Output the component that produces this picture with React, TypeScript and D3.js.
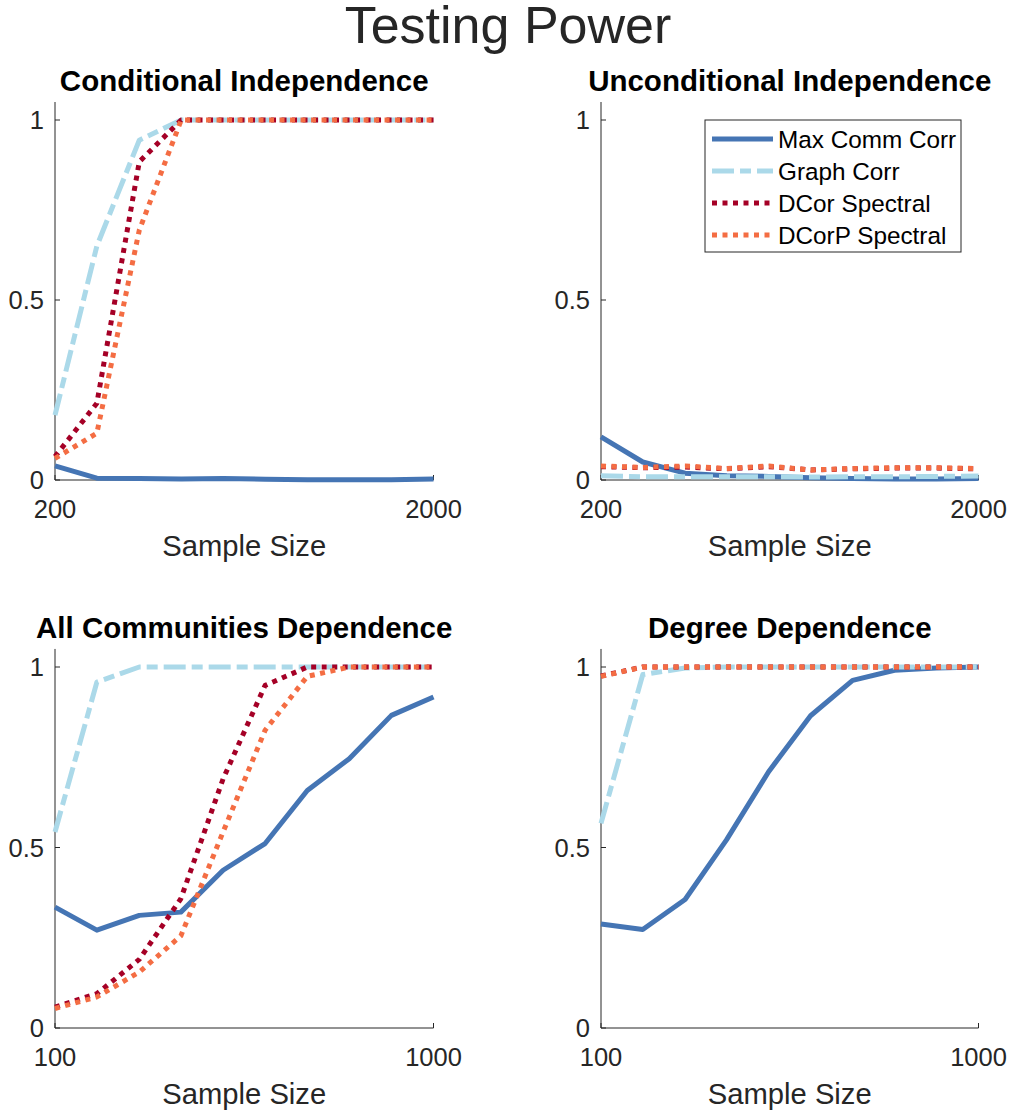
import React from "react";
import * as d3 from "d3";

const xTop = [200, 258, 334, 431, 557, 719, 928, 1198, 1548, 2000];
const xBottom = [100, 129, 167, 215, 278, 359, 464, 599, 774, 1000];

const seriesNames = ["Max Comm Corr", "Graph Corr", "DCor Spectral", "DCorP Spectral"];

// Conditional Independence
const ciMaxComm = [0.039, 0.005, 0.004, 0.003, 0.004, 0.002, 0.001, 0.001, 0.001, 0.003];
const ciGraphCorr = [0.18, 0.65, 0.944, 1, 1, 1, 1, 1, 1, 1];
const ciDcor = [0.065, 0.213, 0.884, 1, 1, 1, 1, 1, 1, 1];
const ciDcorp = [0.06, 0.13, 0.694, 1, 1, 1, 1, 1, 1, 1];

// Unconditional Independence
const uiMaxComm = [0.12, 0.05, 0.019, 0.012, 0.01, 0.006, 0.004, 0.003, 0.003, 0.004];
const uiGraphCorr = [0.012, 0.009, 0.009, 0.009, 0.009, 0.008, 0.009, 0.009, 0.01, 0.011];
const uiDcor = [0.037, 0.034, 0.036, 0.031, 0.037, 0.028, 0.031, 0.033, 0.033, 0.031];
const uiDcorp = [0.039, 0.035, 0.039, 0.032, 0.039, 0.028, 0.032, 0.034, 0.034, 0.032];

// All Communities Dependence
const acdMaxComm = [0.335, 0.271, 0.312, 0.321, 0.437, 0.511, 0.658, 0.746, 0.866, 0.917];
const acdGraphCorr = [0.543, 0.958, 1, 1, 1, 1, 1, 1, 1, 1];
const acdDcor = [0.058, 0.095, 0.19, 0.358, 0.69, 0.949, 1, 1, 1, 1];
const acdDcorp = [0.054, 0.086, 0.155, 0.255, 0.543, 0.825, 0.974, 1, 1, 1];

// Degree Dependence
const ddMaxComm = [0.288, 0.273, 0.356, 0.521, 0.71, 0.865, 0.963, 0.991, 0.997, 1.0];
const ddGraphCorr = [0.567, 0.979, 0.997, 1, 1, 1, 1, 1, 1, 1];
const ddDcor = [0.975, 1, 1, 1, 1, 1, 1, 1, 1, 1];
const ddDcorp = [0.974, 1, 1, 1, 1, 1, 1, 1, 1, 1];

const yTicks = [0, 0.5, 1];
const yTickLabels = ["0", "0.5", "1"];

const panels = [
  { title: "Conditional Independence", xs: xTop, ticks: ["200", "2000"], data: [ciMaxComm, ciGraphCorr, ciDcor, ciDcorp], legend: false },
  { title: "Unconditional Independence", xs: xTop, ticks: ["200", "2000"], data: [uiMaxComm, uiGraphCorr, uiDcor, uiDcorp], legend: true },
  { title: "All Communities Dependence", xs: xBottom, ticks: ["100", "1000"], data: [acdMaxComm, acdGraphCorr, acdDcor, acdDcorp], legend: false },
  { title: "Degree Dependence", xs: xBottom, ticks: ["100", "1000"], data: [ddMaxComm, ddGraphCorr, ddDcor, ddDcorp], legend: false },
];

const colors = ["#4575b4", "#abd9e9", "#a50026", "#f46d43"];
const dashes = ["none", "22,6,11,6", "5,5.5", "5,5.5"];
const widths = [5, 5, 5, 5];

const FONT = "'Liberation Sans', Arial, Helvetica, sans-serif";
const TXT = "#262626";

const layout = [
  { x0: 55, x1: 433.5, y0: 480, y1: 120 },
  { x0: 601, x1: 978.5, y0: 480, y1: 120 },
  { x0: 55, x1: 433.5, y0: 1028, y1: 667 },
  { x0: 601, x1: 978.5, y0: 1028, y1: 667 },
];

function Panel({ p, L }: any) {
  const xs = p.xs;
  const x = d3.scaleLog().domain([xs[0], xs[xs.length - 1]]).range([L.x0, L.x1]);
  const y = d3.scaleLinear().domain([0, 1]).range([L.y0, L.y1]);
  const yTop = y(1.05);
  const line = d3
    .line<number>()
    .x((_, i) => x(xs[i]))
    .y((v) => y(v));
  const cx = (L.x0 + L.x1) / 2;
  return (
    <g>
      <text x={cx} y={yTop - 11} textAnchor="middle" fontFamily={FONT} fontWeight="bold" fontSize={29.5} fill="#000">
        {p.title}
      </text>
      <line x1={L.x0} x2={L.x0} y1={L.y0} y2={yTop} stroke={TXT} strokeWidth={1} />
      <line x1={L.x0} x2={L.x1} y1={L.y0} y2={L.y0} stroke={TXT} strokeWidth={1} />
      {yTicks.map((t, i) => (
        <g key={i}>
          <line x1={L.x0} x2={L.x0 + 5} y1={y(t)} y2={y(t)} stroke={TXT} strokeWidth={1} />
          <text x={L.x0 - 11} y={y(t)} dy="0.36em" textAnchor="end" fontFamily={FONT} fontSize={25.5} fill={TXT}>
            {yTickLabels[i]}
          </text>
        </g>
      ))}
      {[xs[0], xs[xs.length - 1]].map((t, i) => (
        <g key={i}>
          <line x1={x(t)} x2={x(t)} y1={L.y0} y2={L.y0 - 5} stroke={TXT} strokeWidth={1} />
          <text x={x(t)} y={L.y0 + 38} textAnchor="middle" fontFamily={FONT} fontSize={25.5} fill={TXT}>
            {p.ticks[i]}
          </text>
        </g>
      ))}
      <text x={cx} y={L.y0 + 76} textAnchor="middle" fontFamily={FONT} fontSize={29.2} fill={TXT}>
        Sample Size
      </text>
      {p.data.map((vals: number[], si: number) => (
        <path
          key={si}
          d={line(vals) || ""}
          fill="none"
          stroke={colors[si]}
          strokeWidth={widths[si]}
          strokeDasharray={dashes[si]}
          strokeLinecap="butt"
          strokeLinejoin="round"
        />
      ))}
      {p.legend && (
        <g>
          <rect x={705} y={120} width={256} height={132} fill="#fff" stroke={TXT} strokeWidth={1} />
          {seriesNames.map((n, si) => {
            const ly = 139 + si * 32;
            return (
              <g key={si}>
                <line x1={712} x2={773} y1={ly} y2={ly} stroke={colors[si]} strokeWidth={widths[si]} strokeDasharray={dashes[si]} />
                <text x={778} y={ly} dy="0.36em" fontFamily={FONT} fontSize={24.3} fill="#000">
                  {n}
                </text>
              </g>
            );
          })}
        </g>
      )}
    </g>
  );
}

export default function App() {
  return (
    <svg width={1014} height={1115} style={{ position: "absolute", left: 0, top: 0, background: "#fff" }}>
      <rect width={1014} height={1115} fill="#fff" />
      <text x={508} y={43} textAnchor="middle" fontFamily={FONT} fontSize={52} fill={TXT}>
        Testing Power
      </text>
      {panels.map((p, i) => (
        <Panel key={i} p={p} L={layout[i]} />
      ))}
    </svg>
  );
}
